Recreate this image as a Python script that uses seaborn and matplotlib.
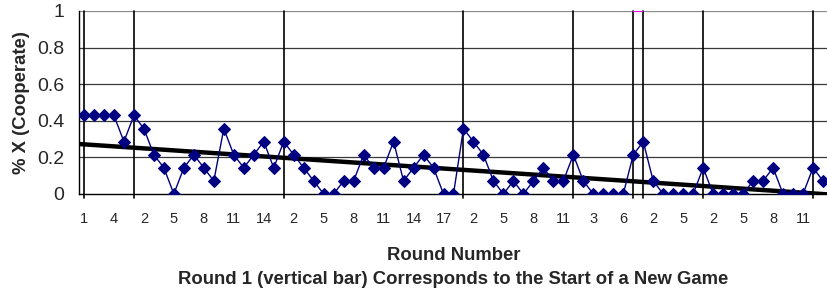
import numpy as np
import pandas as pd
import matplotlib
matplotlib.use("Agg")
import matplotlib.pyplot as plt
import seaborn as sns

# ---- data ----
game_lengths = [5, 15, 18, 11, 6, 1, 6, 11, 2]
coop = [
    0.429, 0.429, 0.429, 0.429, 0.286,                      # game 1
    0.429, 0.357, 0.214, 0.143, 0.0, 0.143, 0.214, 0.143,   # game 2
    0.071, 0.357, 0.214, 0.143, 0.214, 0.286, 0.143,
    0.286, 0.214, 0.143, 0.071, 0.0, 0.0, 0.071, 0.071,     # game 3
    0.214, 0.143, 0.143, 0.286, 0.071, 0.143, 0.214, 0.143,
    0.0, 0.0,
    0.357, 0.286, 0.214, 0.071, 0.0, 0.071, 0.0, 0.071,     # game 4
    0.143, 0.071, 0.071,
    0.214, 0.071, 0.0, 0.0, 0.0, 0.0,                       # game 5
    0.214,                                                  # game 6
    0.286, 0.071, 0.0, 0.0, 0.0, 0.0,                       # game 7
    0.143, 0.0, 0.0, 0.0, 0.0, 0.071, 0.071, 0.143,         # game 8
    0.0, 0.0, 0.0,
    0.143, 0.071,                                           # game 9
]
y_ticks = [0, 0.2, 0.4, 0.6, 0.8, 1]
y_tick_labels = ["0", "0.2", "0.4", "0.6", "0.8", "1"]

rounds = [r for n in game_lengths for r in range(1, n + 1)]
game_starts = list(np.cumsum([0] + game_lengths[:-1]))
pos = np.arange(len(coop))
df = pd.DataFrame({"pos": pos, "coop": coop, "round": rounds})

# ---- style ----
sns.set_style("white")
plt.rcParams["font.family"] = ["Liberation Sans", "DejaVu Sans"]

fig = plt.figure(figsize=(8.28, 2.97), dpi=100)
ax = fig.add_axes([0.0954, 0.347, 0.9046, 0.616])
ax.set_xlim(-0.5, len(coop) - 0.5)
ax.set_ylim(0, 1)

# horizontal gridlines
for yv in y_ticks[1:]:
    ax.axhline(yv, color="#3a3a3a" if yv < 1 else "#8a8a8a", lw=0.9, zorder=0)

# game start bars
for g in game_starts:
    ax.axvline(g, ymin=-0.02, ymax=1, color="black", lw=1.2, zorder=1, clip_on=False)
ax.hlines(1, game_starts[5], game_starts[6], color="#ff00ff", lw=1.5, zorder=2)

# trend line
sns.regplot(data=df, x="pos", y="coop", scatter=False, ci=None, truncate=False,
            line_kws=dict(color="black", lw=3.2, solid_capstyle="butt"), ax=ax)

# data line
sns.lineplot(data=df, x="pos", y="coop", color="#000080", lw=1.0, marker="D",
             markersize=6.5, markeredgecolor="#000080", ax=ax, zorder=4)
ax.set_xlim(-0.5, len(coop) - 0.5)
ax.set_ylim(0, 1)

# axes styling
for s in ["top", "right"]:
    ax.spines[s].set_visible(False)
for s in ["left", "bottom"]:
    ax.spines[s].set_color("black")
    ax.spines[s].set_linewidth(1.0)

ax.set_yticks(y_ticks)
ax.set_yticklabels(y_tick_labels, fontsize=14)
ax.tick_params(axis="y", direction="out", length=4.5, width=0.9, color="black", pad=6)

lab_pos = pos[::3]
ax.set_xticks(lab_pos)
ax.set_xticklabels([str(rounds[i]) for i in lab_pos], fontsize=10.5)
ax.tick_params(axis="x", which="major", length=0, pad=13)
ax.set_xticks(np.arange(-0.5, len(coop), 1), minor=True)
ax.tick_params(axis="x", which="minor", direction="out", length=3.5, width=0.9, color="black")

ax.set_xlabel("")
ax.set_ylabel("% X (Cooperate)", fontsize=13.3, fontweight="bold", labelpad=5)

fig.text(0.5477, 1 - 255.5 / 297, "Round Number", ha="center", va="center",
         fontsize=13.3, fontweight="bold")
fig.text(0.5477, 1 - 280 / 297,
         "Round 1 (vertical bar) Corresponds to the Start of a New Game",
         ha="center", va="center", fontsize=13.3, fontweight="bold")

fig.savefig("out.png", dpi=100)
